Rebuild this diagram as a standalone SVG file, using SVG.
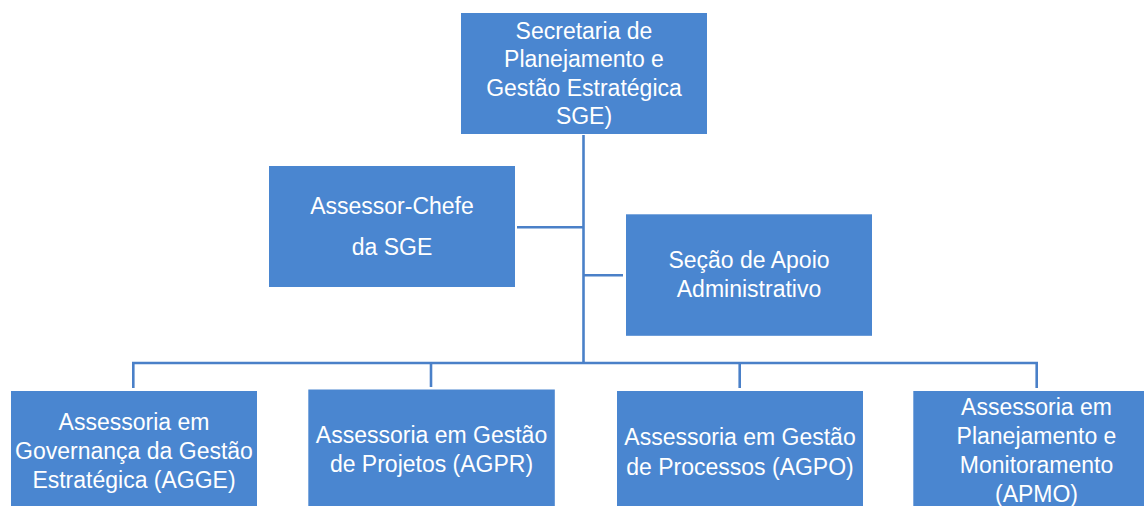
<svg xmlns="http://www.w3.org/2000/svg" width="1144" height="506" viewBox="0 0 1144 506">
<style>
.box{fill:#4A86D0;}
.t{font-family:"Liberation Sans","Open Sans",Arial,sans-serif;font-size:23px;fill:#ffffff;text-anchor:middle;}
.c{stroke:#4A80C8;stroke-width:2.6;fill:none;}
</style>
<rect width="1144" height="506" fill="#ffffff"/>
<g id="connectors">
<line class="c" x1="583.5" y1="135" x2="583.5" y2="363"/>
<line class="c" x1="517" y1="227.3" x2="583.5" y2="227.3"/>
<line class="c" x1="583.5" y1="275.3" x2="623" y2="275.3"/>
<polyline class="c" points="133.3,388 133.3,363 1036.7,363 1036.7,388"/>
<line class="c" x1="431" y1="363" x2="431" y2="387"/>
<line class="c" x1="739.7" y1="363" x2="739.7" y2="388"/>
</g>
<g id="sge">
<rect class="box" x="461" y="13" width="246" height="121"/>
<text class="t" x="584" y="38.5">Secretaria de</text>
<text class="t" x="584" y="67">Planejamento e</text>
<text class="t" x="584" y="95.5">Gestão Estratégica</text>
<text class="t" x="584" y="124">SGE)</text>
</g>
<g id="assessor-chefe">
<rect class="box" x="269" y="166" width="246" height="121"/>
<text class="t" x="392" y="214">Assessor-Chefe</text>
<text class="t" x="392" y="255">da SGE</text>
</g>
<g id="secao-apoio">
<rect class="box" x="626" y="214.3" width="246" height="121.5"/>
<text class="t" x="749" y="267.7">Seção de Apoio</text>
<text class="t" x="749" y="296.7">Administrativo</text>
</g>
<g id="agge">
<rect class="box" x="11" y="391" width="246" height="121"/>
<text class="t" x="134" y="430">Assessoria em</text>
<text class="t" x="134" y="459">Governança da Gestão</text>
<text class="t" x="134" y="488">Estratégica (AGGE)</text>
</g>
<g id="agpr">
<rect class="box" x="308.3" y="389.5" width="246.5" height="121"/>
<text class="t" x="431.5" y="443">Assessoria em Gestão</text>
<text class="t" x="431.5" y="472">de Projetos (AGPR)</text>
</g>
<g id="agpo">
<rect class="box" x="617" y="391" width="246" height="121"/>
<text class="t" x="740" y="445">Assessoria em Gestão</text>
<text class="t" x="740" y="474.5">de Processos (AGPO)</text>
</g>
<g id="apmo">
<rect class="box" x="913.3" y="391" width="246" height="121"/>
<text class="t" x="1036.5" y="415">Assessoria em</text>
<text class="t" x="1036.5" y="444">Planejamento e</text>
<text class="t" x="1036.5" y="473">Monitoramento</text>
<text class="t" x="1036.5" y="502">(APMO)</text>
</g>
</svg>
